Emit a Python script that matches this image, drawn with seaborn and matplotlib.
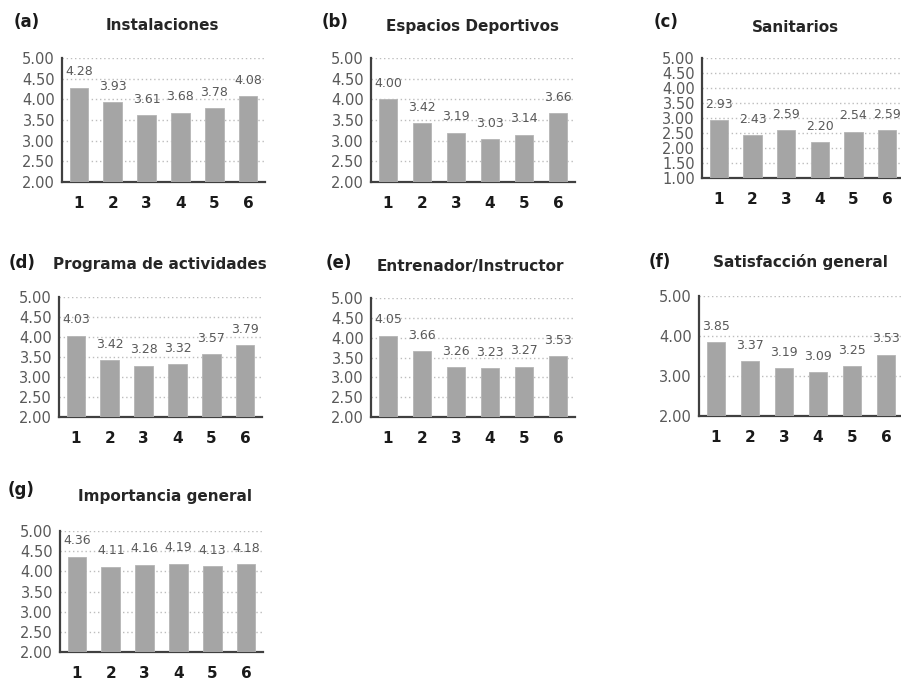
import matplotlib
matplotlib.use("Agg")
import matplotlib.pyplot as plt
import seaborn as sns
import numpy as np
import pandas as pd
from matplotlib.ticker import FixedLocator, FormatStrFormatter

# ---- data ----
categories = ['1', '2', '3', '4', '5', '6']
instalaciones = [4.28, 3.93, 3.61, 3.68, 3.78, 4.08]
espacios = [4.00, 3.42, 3.19, 3.03, 3.14, 3.66]
sanitarios = [2.93, 2.43, 2.59, 2.20, 2.54, 2.59]
programa = [4.03, 3.42, 3.28, 3.32, 3.57, 3.79]
entrenador = [4.05, 3.66, 3.26, 3.23, 3.27, 3.53]
satisfaccion = [3.85, 3.37, 3.19, 3.09, 3.25, 3.53]
importancia = [4.36, 4.11, 4.16, 4.19, 4.13, 4.18]

panel_letters = ['(a)', '(b)', '(c)', '(d)', '(e)', '(f)', '(g)']
panel_titles = ['Instalaciones', 'Espacios Deportivos', 'Sanitarios',
                'Programa de actividades', 'Entrenador/Instructor',
                'Satisfacción general', 'Importancia general']
panel_values = [instalaciones, espacios, sanitarios, programa, entrenador,
                satisfaccion, importancia]
panel_ymin = [2.0, 2.0, 1.0, 2.0, 2.0, 2.0, 2.0]
panel_ystep = [0.5, 0.5, 0.5, 0.5, 0.5, 1.0, 0.5]

# ---- layout (pixels) ----
W, H = 901, 680
# left, right, top, bottom of plot area
boxes = [
    (62, 265, 58, 182),
    (371, 575, 58, 182),
    (702, 904, 58, 178),
    (59, 262, 297, 417),
    (371, 575, 298, 417),
    (699, 903, 296, 416),
    (60, 263, 531, 652),
]
# (letter x, letter y, title center x, title y)
heads = [
    (14, 22, 162, 25),
    (322, 22, 473, 27),
    (654, 22, 795, 27),
    (9, 263, 160, 265),
    (326, 263, 470, 267),
    (649, 262, 800, 262),
    (8, 490, 165, 496),
]

sns.set_style("white")
plt.rcParams['font.family'] = ['DejaVu Sans']

fig = plt.figure(figsize=(W / 100, H / 100), dpi=100)
fig.patch.set_facecolor('white')

bar_color = '#A5A5A5'
text_gray = '#595959'
axis_color = '#404040'

for i in range(7):
    l, r, t, b = boxes[i]
    ax = fig.add_axes([l / W, 1 - b / H, (r - l) / W, (b - t) / H])
    df = pd.DataFrame({'cat': categories, 'val': panel_values[i]})
    sns.barplot(data=df, x='cat', y='val', color=bar_color, width=0.55,
                saturation=1, edgecolor='#B5B5B5', linewidth=0.6, ax=ax, zorder=3)
    ymin = panel_ymin[i]
    step = panel_ystep[i]
    ax.set_ylim(ymin, 5.0)
    ax.set_xlim(-0.5, 5.5)
    yt = np.arange(ymin, 5.0 + 1e-9, step)
    ax.yaxis.set_major_locator(FixedLocator(yt))
    ax.yaxis.set_major_formatter(FormatStrFormatter('%.2f'))
    ax.yaxis.grid(True, linestyle=(0, (1, 2)), color='#BDBDBD', linewidth=1.0, zorder=0)
    ax.xaxis.grid(False)
    ax.set_xlabel('')
    ax.set_ylabel('')
    for s in ['top', 'right']:
        ax.spines[s].set_visible(False)
    for s in ['left', 'bottom']:
        ax.spines[s].set_color(axis_color)
        ax.spines[s].set_linewidth(1.6)
    ax.tick_params(axis='y', direction='out', length=3, width=1.2, color=axis_color,
                   labelsize=10.5, labelcolor=text_gray, pad=2)
    ax.tick_params(axis='x', which='major', length=0, labelsize=11, pad=10)
    ax.xaxis.set_minor_locator(FixedLocator(np.arange(-0.5, 6.0, 1.0)))
    ax.tick_params(axis='x', which='minor', direction='out', length=3.5, width=1.2,
                   color=axis_color)
    for lab in ax.get_xticklabels():
        lab.set_fontweight('bold')
        lab.set_color('#1a1a1a')
    for j, v in enumerate(panel_values[i]):
        ax.annotate(f'{v:.2f}', xy=(j, v), xytext=(0, 11.5), textcoords='offset points',
                    ha='center', va='center', fontsize=9, color=text_gray,
                    annotation_clip=False, zorder=4)
    lx, ly, tx, ty = heads[i]
    fig.text(lx / W, 1 - ly / H, panel_letters[i], ha='left', va='center',
             fontsize=12, fontweight='bold', color='#1a1a1a')
    fig.text(tx / W, 1 - ty / H, panel_titles[i], ha='center', va='center',
             fontsize=11, fontweight='bold', color='#262626')

fig.savefig('out.png', dpi=100, facecolor='white')
